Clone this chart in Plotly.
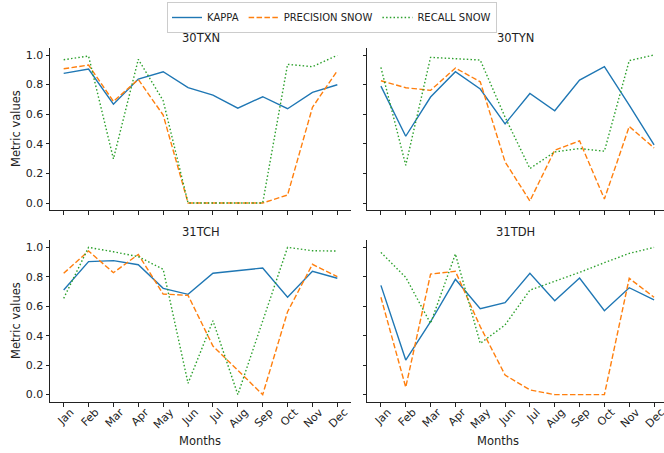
import plotly.graph_objects as go

months = ["Jan", "Feb", "Mar", "Apr", "May", "Jun", "Jul", "Aug", "Sep", "Oct", "Nov", "Dec"]
series_names = ["KAPPA", "PRECISION SNOW", "RECALL SNOW"]
tiles = ["30TXN", "30TYN", "31TCH", "31TDH"]

kappa_30TXN = [0.876, 0.905, 0.668, 0.837, 0.887, 0.779, 0.729, 0.641, 0.718, 0.637, 0.747, 0.799]
precision_30TXN = [0.907, 0.932, 0.686, 0.835, 0.594, 0.0, 0.0, 0.0, 0.0, 0.054, 0.646, 0.894]
recall_30TXN = [0.968, 0.993, 0.298, 0.971, 0.691, 0.0, 0.0, 0.0, 0.0, 0.937, 0.921, 0.998]

kappa_30TYN = [0.790, 0.451, 0.716, 0.887, 0.770, 0.535, 0.740, 0.623, 0.831, 0.921, 0.661, 0.393]
precision_30TYN = [0.826, 0.779, 0.761, 0.912, 0.819, 0.278, 0.014, 0.357, 0.420, 0.027, 0.517, 0.372]
recall_30TYN = [0.916, 0.255, 0.984, 0.977, 0.966, 0.580, 0.233, 0.345, 0.368, 0.350, 0.962, 1.0]

kappa_31TCH = [0.710, 0.903, 0.910, 0.882, 0.722, 0.681, 0.824, 0.842, 0.860, 0.661, 0.837, 0.790]
precision_31TCH = [0.824, 0.975, 0.828, 0.952, 0.683, 0.674, 0.330, 0.167, 0.0, 0.563, 0.885, 0.801]
recall_31TCH = [0.654, 1.0, 0.970, 0.937, 0.851, 0.077, 0.502, 0.0, 0.500, 1.0, 0.977, 0.975]

kappa_31TDH = [0.742, 0.235, 0.495, 0.783, 0.584, 0.624, 0.824, 0.638, 0.792, 0.570, 0.726, 0.643]
precision_31TDH = [0.661, 0.050, 0.819, 0.837, 0.462, 0.133, 0.032, 0.0, 0.0, 0.0, 0.790, 0.661]
recall_31TDH = [0.966, 0.796, 0.484, 0.955, 0.348, 0.473, 0.710, 0.770, 0.830, 0.896, 0.959, 1.0]

data = {
    "30TXN": [kappa_30TXN, precision_30TXN, recall_30TXN],
    "30TYN": [kappa_30TYN, precision_30TYN, recall_30TYN],
    "31TCH": [kappa_31TCH, precision_31TCH, recall_31TCH],
    "31TDH": [kappa_31TDH, precision_31TDH, recall_31TDH],
}

colors = ["#1f77b4", "#ff7f0e", "#2ca02c"]
dashes = ["solid", "5.5px,2.4px", "1.5px,2.2px"]

W, H = 664, 453
FONT = "DejaVu Sans"

# pixel layout
xdom = [[50 / W, 351 / W], [367 / W, 1.0]]
ydom = [[(H - 210.4) / H, (H - 47.6) / H], [(H - 402) / H, (H - 240) / H]]
xranges = [[-0.55, 11.55], [-0.56, 11.4]]

fig = go.Figure()
for i, tile in enumerate(tiles):
    r, c = divmod(i, 2)
    ax = "" if i == 0 else str(i + 1)
    for k, name in enumerate(series_names):
        fig.add_trace(go.Scatter(
            x=months, y=data[tile][k], mode="lines", name=name,
            line=dict(color=colors[k], dash=dashes[k], width=1.4),
            xaxis="x" + ax, yaxis="y" + ax, showlegend=(i == 0),
            legendgroup=name,
        ))
    common = dict(showline=True, linecolor="#222", linewidth=1, ticks="outside",
                  ticklen=3.5, tickcolor="#222", tickwidth=1, showgrid=False,
                  zeroline=False, automargin=False,
                  tickfont=dict(family=FONT, size=11, color="#222"))
    fig.layout["xaxis" + ax] = dict(
        domain=xdom[c], anchor="y" + ax, type="category", categoryorder="array",
        categoryarray=months, range=xranges[c], showticklabels=(r == 1),
        tickangle=-45, ticklabelshift=7, ticklabelstandoff=-5, **common)
    fig.layout["yaxis" + ax] = dict(
        domain=ydom[r], anchor="x" + ax, range=[-0.05, 1.05],
        tickvals=[0, 0.2, 0.4, 0.6, 0.8, 1.0], tickformat=".1f",
        showticklabels=(c == 0), **common)
    # title
    fig.add_annotation(text=tile, x=(50 + 351) / 2 / W if c == 0 else (367 + 664) / 2 / W,
                       y=(H - (38 if r == 0 else 232)) / H,
                       xref="paper", yref="paper", showarrow=False,
                       xanchor="center", yanchor="middle",
                       font=dict(family=FONT, size=11.5, color="#222"))
    if c == 0:
        cy = (ydom[r][0] + ydom[r][1]) / 2
        fig.add_annotation(text="Metric values", x=16 / W, y=cy, xref="paper",
                           yref="paper", showarrow=False, textangle=-90,
                           xanchor="center", yanchor="middle",
                           font=dict(family=FONT, size=11.5, color="#222"))
    if r == 1:
        fig.add_annotation(text="Months", x=(200 if c == 0 else 498) / W,
                           y=(H - 441) / H, xref="paper",
                           yref="paper", showarrow=False, xanchor="center",
                           yanchor="middle",
                           font=dict(family=FONT, size=11.5, color="#222"))

fig.update_layout(
    width=W, height=H, margin=dict(l=0, r=0, t=0, b=0, autoexpand=False),
    paper_bgcolor="white", plot_bgcolor="white",
    font=dict(family=FONT, size=11, color="#222"),
    legend=dict(orientation="h", x=0.5, xanchor="center", y=1 - 2 / H,
                yanchor="top", bordercolor="#cccccc", borderwidth=1,
                bgcolor="white", font=dict(family=FONT, size=10, color="#222"),
                itemwidth=30, tracegroupgap=0),
)

fig.write_html("out.html", config={"displayModeBar": False},
               post_script="document.body.style.margin='0px';")
